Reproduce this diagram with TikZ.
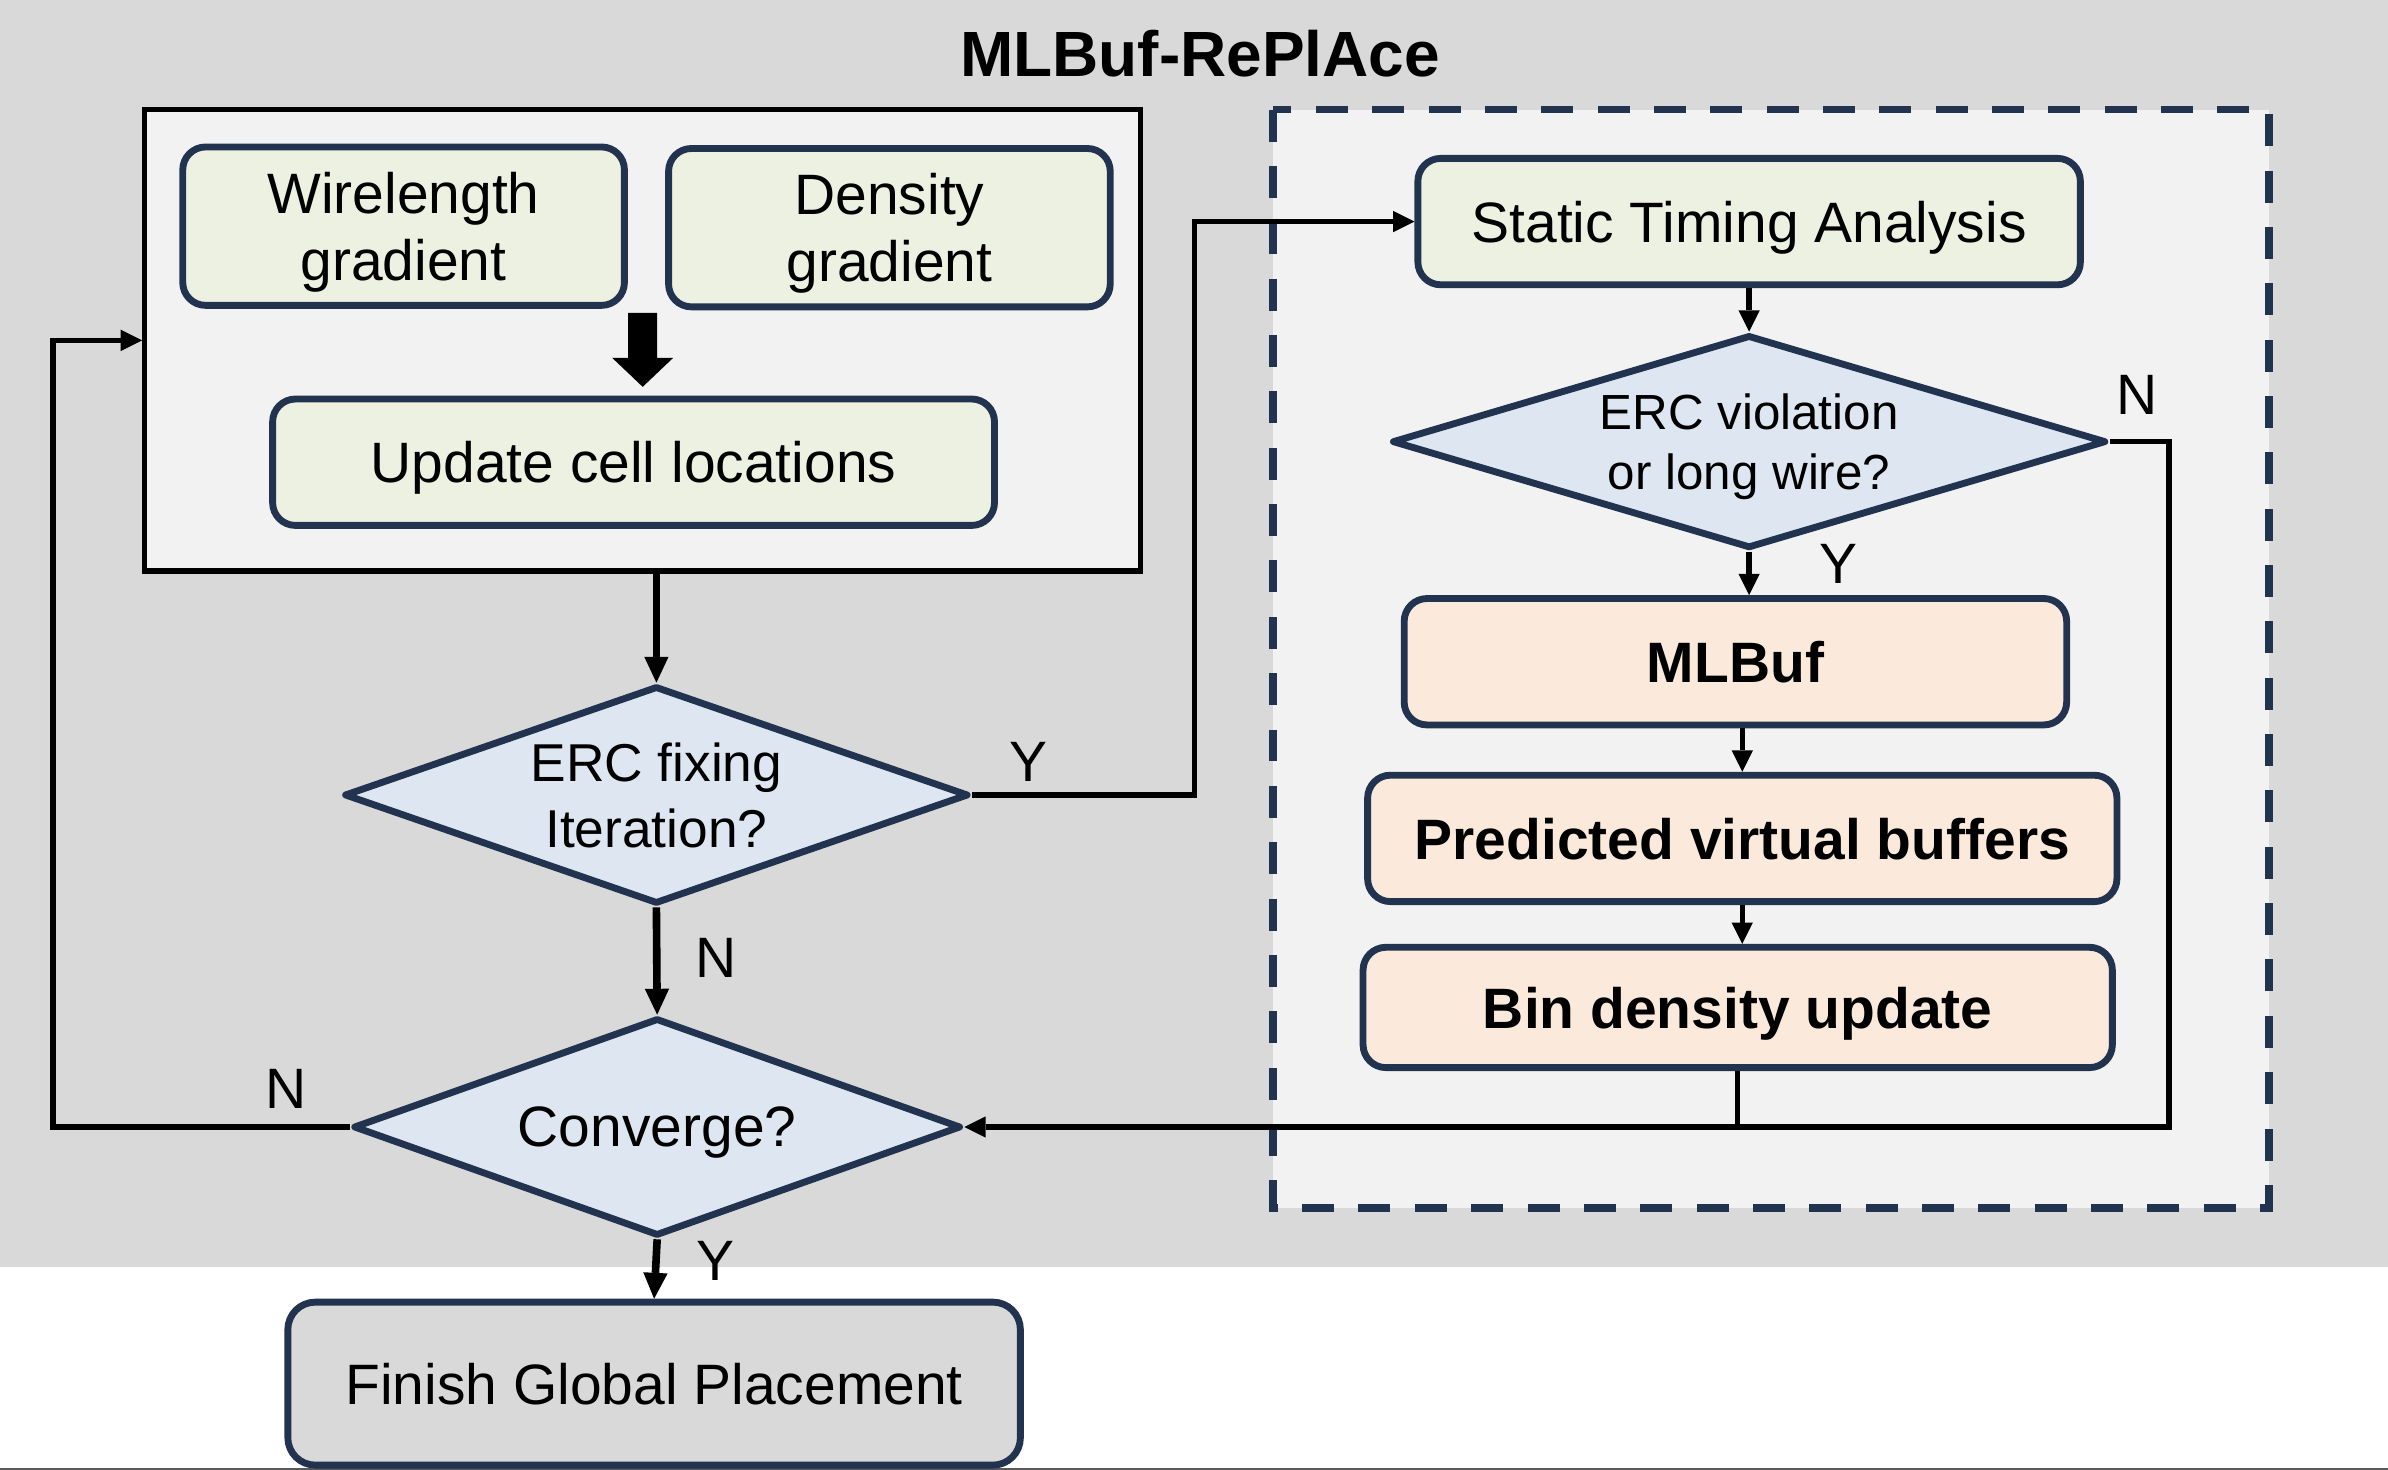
\documentclass[tikz,border=0pt]{standalone}
\usepackage{fontspec}
\setmainfont{Liberation Sans}
\usetikzlibrary{shapes.geometric,arrows.meta}

\definecolor{bggray}{RGB}{217,217,217}
\definecolor{panel}{RGB}{242,242,242}
\definecolor{navy}{RGB}{34,51,79}
\definecolor{greenfill}{RGB}{237,241,225}
\definecolor{peachfill}{RGB}{251,234,219}
\definecolor{bluefill}{RGB}{222,230,241}
\definecolor{edgedark}{RGB}{90,90,90}

\newcommand{\mlfont}{\fontsize{37.4}{44}\selectfont}
\newcommand{\fixfont}{\fontsize{35}{43}\selectfont}
\newcommand{\violfont}{\fontsize{32.4}{40}\selectfont}
\newcommand{\titlefont}{\fontsize{42}{50}\selectfont\bfseries}

\begin{document}
\begin{tikzpicture}[x=1pt,y=1pt,yscale=-1,
  greenbox/.style={draw=navy, line width=4.5pt, fill=greenfill, rounded corners=15pt, align=center, inner sep=0pt, text depth=0pt, font=\mlfont},
  peachbox/.style={greenbox, fill=peachfill, font=\mlfont\bfseries},
  graybox/.style={greenbox, fill=bggray, rounded corners=18pt},
  decision/.style={diamond, draw=navy, line width=4.5pt, fill=bluefill, line join=round, inner sep=0pt, text depth=0pt, align=center},
  link/.style={line width=3.5pt},
  flow/.style={link, -{Triangle[length=14pt,width=14pt,line width=0pt]}},
  bigflow/.style={line width=5pt, -{Triangle[length=17pt,width=16pt,line width=0pt]}},
  answer/.style={font=\mlfont, inner sep=0pt}]
\useasboundingbox (0,0) rectangle (1568,965.2);

%Shape: Background
\fill[bggray] (0,0) rectangle (1568,832);
\draw[edgedark, line width=1.2pt] (0,964.6) -- (1568,964.6);

% Text Node
\node[font=\titlefont, inner sep=0pt] (title) at (788,35) {MLBuf-RePlAce};

%Shape: Rectangle (placement loop)
\node[draw, line width=3.5pt, fill=panel, minimum width=654pt, minimum height=303pt, inner sep=0pt] (gploop) at (422,223.5) {};
\node[greenbox, minimum width=290pt, minimum height=104pt] (wlgrad) at (265,148.5) {Wirelength\\gradient};
\node[greenbox, minimum width=290pt, minimum height=104pt] (dengrad) at (584,149.5) {Density\\gradient};
\node[greenbox, minimum width=474pt, minimum height=83pt] (update) at (416,303.5) {Update cell locations};

%Shape: Down Arrow
\fill (412.5,205.5) -- (431.5,205.5) -- (431.5,235) -- (442,235) -- (422,254) -- (402,235) -- (412.5,235) -- cycle;

%Shape: Dashed Rectangle (MLBuf part)
\draw[draw=navy, fill=panel, line width=5pt, dash pattern=on 21pt off 16pt] (836,72) rectangle (1490,793);

% Right column
\node[greenbox, minimum width=435pt, minimum height=83pt] (sta) at (1148.5,145.5) {Static Timing Analysis};
\node[decision, aspect=3.3, minimum width=469pt, minimum height=140pt, font=\violfont] (ercviol) at (1148.5,290) {ERC violation\\or long wire?};
\node[peachbox, minimum width=435pt, minimum height=83pt] (mlbuf) at (1139.5,434.5) {MLBuf};
\node[peachbox, minimum width=492pt, minimum height=83pt] (vbuf) at (1144,550.5) {Predicted virtual buffers};
\node[peachbox, minimum width=492pt, minimum height=79pt] (bindens) at (1141,661.5) {Bin density update};

% Left column
\node[decision, aspect=3, minimum width=410pt, minimum height=143pt, font=\fixfont] (ercfix) at (431,522) {ERC fixing\\Iteration?};
\node[decision, aspect=3, minimum width=399pt, minimum height=143pt] (conv) at (431.5,740) {\mlfont Converge?};
\node[graybox, minimum width=481pt, minimum height=107pt] (finish) at (429.5,908.5) {Finish Global Placement};

%Straight Lines
\draw[bigflow] (ercfix.north |- gploop.south) -- (ercfix.north);
\draw[flow] (ercfix.east) -- ++(146,0) |- (sta.west);
\draw[flow] (sta.south) -- (ercviol.north);
\draw[flow] (ercviol.south) -- (ercviol.south |- mlbuf.north);
\draw[flow] (vbuf.north |- mlbuf.south) -- (vbuf.north);
\draw[flow] (vbuf.south) -- (vbuf.south |- bindens.north);
\draw[link] (bindens.south) -- (bindens.south |- conv.east);
\draw[flow] (ercviol.east) -- ++(39,0) |- (conv.east);
\draw[bigflow] (ercfix.south) -- (conv.north);
\draw[flow] (conv.west) -- ++(-195,0) |- (gploop.west);
\draw[bigflow] (conv.south) -- (finish.north);

% Text Node
\node[answer] (fixY) at (675,500) {Y};
\node[answer] (fixN) at (470,629) {N};
\node[answer] (violN) at (1403,259) {N};
\node[answer] (violY) at (1207,370) {Y};
\node[answer] (convN) at (188,715) {N};
\node[answer] (convY) at (470,828) {Y};

\end{tikzpicture}
\end{document}
